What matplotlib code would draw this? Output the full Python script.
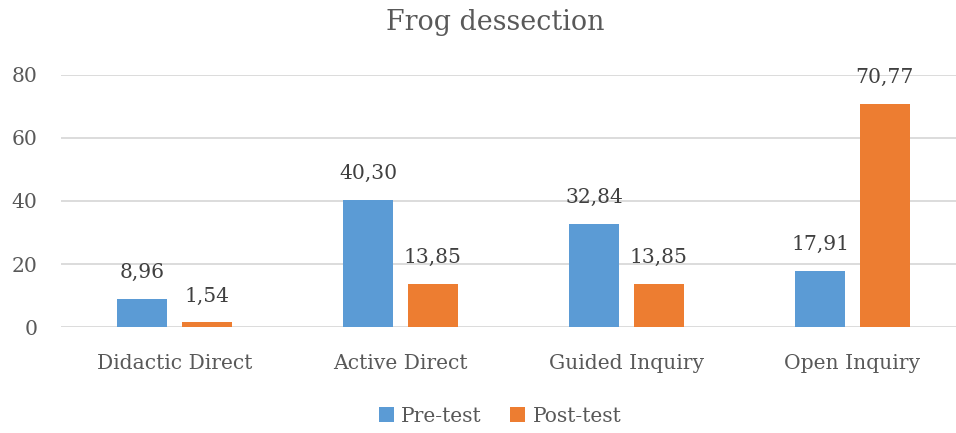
import matplotlib
matplotlib.use("Agg")
import matplotlib.pyplot as plt
import numpy as np

categories = ["Didactic Direct", "Active Direct", "Guided Inquiry", "Open Inquiry"]
pre_test = [8.96, 40.30, 32.84, 17.91]
post_test = [1.54, 13.85, 13.85, 70.77]
series_names = ["Pre-test", "Post-test"]
yticks = [0, 20, 40, 60, 80]

plt.rcParams['font.family'] = ['DejaVu Serif']
txt = '#595959'
fs = 14.6

fig = plt.figure(figsize=(9.56, 4.33), dpi=100)
ax = fig.add_axes([61.5/956, 1-327.3/433, (965.5-61.5)/956, (327.3-74.7)/433])

x = np.arange(len(categories))
w = 0.221
off = 0.142
b1 = ax.bar(x - off, pre_test, w, color='#5B9BD5', label=series_names[0], zorder=3)
b2 = ax.bar(x + off, post_test, w, color='#ED7D31', label=series_names[1], zorder=3)

for bars, vals in ((b1, pre_test), (b2, post_test)):
    for r, v in zip(bars, vals):
        ax.annotate(f"{v:.2f}".replace('.', ','), (r.get_x() + r.get_width()/2, v),
                    xytext=(0, 12), textcoords='offset points', ha='center', va='bottom',
                    fontsize=fs, color='#404040')

ax.set_xlim(-0.5, len(categories) - 0.5)
ax.set_ylim(0, 80)
ax.set_yticks(yticks)
ax.set_yticklabels([str(t) for t in yticks])
ax.set_xticks(x)
ax.set_xticklabels(categories)
ax.tick_params(axis='both', length=0, labelsize=fs, colors=txt)
ax.tick_params(axis='x', pad=19.5)
ax.tick_params(axis='y', pad=17.5)
ax.grid(axis='y', color='#D9D9D9', linewidth=1.3, zorder=0)
for s in ax.spines.values():
    s.set_visible(False)

fig.text(495/956, 1-22/433, "Frog dessection", ha='center', va='center', fontsize=19.4, color=txt)

fig.legend(handles=[b1, b2], loc='center', bbox_to_anchor=(500/956, 1-416/433), ncol=2,
           frameon=False, fontsize=fs, labelcolor=txt, handlelength=0.75, handleheight=0.75,
           handletextpad=0.35, columnspacing=1.4)

fig.savefig("out.png", dpi=100)
